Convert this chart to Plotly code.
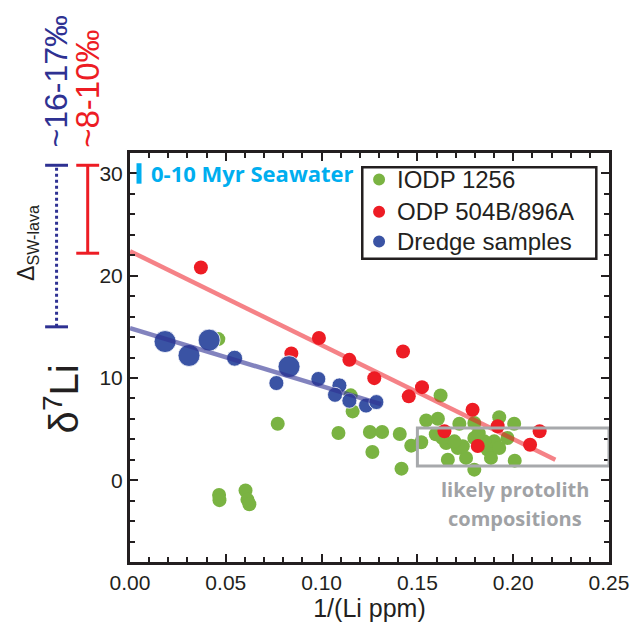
import numpy as np
import plotly.graph_objects as go

# --- data: 1/(Li ppm) and d7Li ---
iodp_x = [0.0461, 0.0771, 0.0465, 0.0467, 0.0603, 0.0613, 0.0623, 0.1088, 0.1152, 0.1162,
          0.1252, 0.1316, 0.1265, 0.1408, 0.1417, 0.1468, 0.1520, 0.1546, 0.1607, 0.1621,
          0.1719, 0.1797, 0.1927, 0.2005, 0.1659, 0.1650, 0.1711, 0.1754, 0.1737, 0.1797,
          0.1797, 0.1866, 0.1884, 0.1901, 0.1927, 0.1970, 0.2008, 0.1849, 0.1693, 0.1630,
          0.1820, 0.1596]
iodp_y = [13.8, 5.52, -1.45, -1.95, -1.0, -1.9, -2.35, 4.61, 8.3, 6.73,
          4.71, 4.71, 2.76, 4.52, 1.13, 3.38, 3.71, 5.85, 6.01, 8.29,
          5.52, 5.59, 6.15, 5.52, 2.01, 3.64, 3.15, 2.18, 3.32, 4.13,
          1.03, 2.99, 2.18, 3.8, 3.15, 4.13, 1.91, 3.8, 3.8, 4.13,
          4.6, 4.5]

odp_x = [0.0370, 0.0842, 0.0986, 0.1145, 0.1275, 0.1425, 0.1455, 0.1524, 0.1641, 0.1788,
         0.1919, 0.1815, 0.2138, 0.2088]
odp_y = [20.8, 12.4, 13.9, 11.77, 9.98, 12.58, 8.2, 9.1, 4.78, 6.89,
         5.27, 3.35, 4.78, 3.47]

dredge_x = [0.0183, 0.0308, 0.0413, 0.0546, 0.0764, 0.0830, 0.0983, 0.1093, 0.1070, 0.1145,
            0.1232, 0.1286]
dredge_y = [13.56, 12.2, 13.7, 11.93, 9.5, 11.1, 9.9, 9.27, 8.35, 7.77,
            7.3, 7.64]
dredge_size = [22, 22, 22, 16, 15, 22, 15, 15, 15, 15, 15, 15]

# linear fits (intercept, slope, x extent)
odp_fit = (22.4, -91.9, 0.222)
dredge_fit = (14.87, -56.7, 0.131)

# seawater bar and offset ranges (d7Li)
seawater_range = [29.0, 31.0]
offset_blue = [15.0, 30.8]
offset_red = [22.2, 30.8]

# protolith box
protolith_x = [0.150, 0.25]
protolith_y = [1.4, 5.1]

series_names = ["IODP 1256", "ODP 504B/896A", "Dredge samples"]

GREEN = "#7ab342"
RED = "#ed1c24"
BLUE = "#3a53a4"
INK = "#231f20"
FONT = "Liberation Sans, Arial, sans-serif"

fig = go.Figure()

fig.add_trace(go.Scatter(x=iodp_x, y=iodp_y, mode="markers", name=series_names[0],
                         marker=dict(color=GREEN, size=14, opacity=1, line=dict(width=0))))
fig.add_trace(go.Scatter(x=odp_x, y=odp_y, mode="markers", name=series_names[1],
                         marker=dict(color=RED, size=14, opacity=1, line=dict(width=0))))
fig.add_trace(go.Scatter(x=dredge_x, y=dredge_y, mode="markers", name=series_names[2],
                         marker=dict(color=BLUE, size=dredge_size, opacity=1,
                                     line=dict(width=0.8, color="white"))))

for (b0, b1, xmax), col in [(odp_fit, "rgba(237,28,36,0.55)"), (dredge_fit, "rgba(46,49,146,0.6)")]:
    xs = np.array([0.0, xmax])
    fig.add_trace(go.Scatter(x=xs, y=b0 + b1 * xs, mode="lines", showlegend=False,
                             hoverinfo="skip", line=dict(color=col, width=4.5)))

shapes = []
# seawater bar
shapes.append(dict(type="line", xref="x", yref="y", x0=0.0047, x1=0.0047,
                   y0=seawater_range[0], y1=seawater_range[1],
                   line=dict(color="#00aeef", width=5)))
# protolith box
shapes.append(dict(type="rect", xref="x", yref="y", x0=protolith_x[0], x1=protolith_x[1],
                   y0=protolith_y[0], y1=protolith_y[1],
                   line=dict(color="#a7a9ac", width=3), fillcolor="rgba(0,0,0,0)"))
# offset bars left of the axis
for (lo, hi), xc, col, dash in [(offset_blue, -0.1533, "#2e3192", "dot"),
                                (offset_red, -0.0883, RED, "solid")]:
    shapes.append(dict(type="line", xref="paper", yref="y", x0=xc, x1=xc, y0=lo, y1=hi,
                       line=dict(color=col, width=3, dash=dash)))
    for yv in (lo, hi):
        shapes.append(dict(type="line", xref="paper", yref="y", x0=xc - 0.0239, x1=xc + 0.0239,
                           y0=yv, y1=yv, line=dict(color=col, width=3)))

# framed key in the upper right
shapes.append(dict(type="rect", xref="paper", yref="paper", x0=0.4849, x1=0.9735,
                   y0=0.7413, y1=0.9654, line=dict(color=INK, width=2.5), fillcolor="white",
                   layer="above"))
key_rows = [0.935, 0.8565, 0.7836]
for name, col, yk in zip(series_names, [GREEN, RED, BLUE], key_rows):
    shapes.append(dict(type="circle", xref="paper", yref="paper", xsizemode="pixel",
                       ysizemode="pixel", xanchor=0.520, yanchor=yk, x0=-6, x1=6, y0=-6, y1=6,
                       fillcolor=col, line=dict(width=0), layer="above"))

annotations = [
    dict(text="<b>0-10 Myr Seawater</b>", xref="x", yref="y", x=0.0101, y=30.0,
         xanchor="left", yanchor="middle", showarrow=False,
         font=dict(family="Open Sans, sans-serif", size=22, color="#00aeef")),
    dict(text="<b>likely protolith</b>", xref="x", yref="y", x=0.201, y=-0.95,
         xanchor="center", yanchor="middle", showarrow=False,
         font=dict(family="Open Sans, sans-serif", size=20, color="#a0a2a5")),
    dict(text="<b>compositions</b>", xref="x", yref="y", x=0.201, y=-3.7,
         xanchor="center", yanchor="middle", showarrow=False,
         font=dict(family="Open Sans, sans-serif", size=20, color="#a0a2a5")),
    dict(text="~16-17‰", xref="paper", yref="paper", x=-0.155, y=1.1768,
         xanchor="center", yanchor="middle", showarrow=False, textangle=-90,
         font=dict(family=FONT, size=32, color="#2e3192")),
    dict(text="~8-10‰", xref="paper", yref="paper", x=-0.088, y=1.1566,
         xanchor="center", yanchor="middle", showarrow=False, textangle=-90,
         font=dict(family=FONT, size=33, color=RED)),
    dict(text="Δ<sub>SW-lava</sub>", xref="paper", yref="y", x=-0.213, y=23.2,
         xanchor="center", yanchor="middle", showarrow=False, textangle=-90,
         font=dict(family=FONT, size=23, color=INK)),
    dict(text="δ<sup>7</sup>Li", xref="paper", yref="y", x=-0.142, y=8.0,
         xanchor="center", yanchor="middle", showarrow=False, textangle=-90,
         font=dict(family=FONT, size=40, color=INK)),
]
for name, yk in zip(series_names, key_rows):
    annotations.append(dict(text=name, xref="paper", yref="paper", x=0.5535, y=yk,
                            xanchor="left", yanchor="middle", showarrow=False,
                            font=dict(family=FONT, size=24, color=INK)))

axis_common = dict(showline=True, linecolor=INK, linewidth=3, mirror="allticks",
                   ticks="inside", ticklen=8, tickwidth=2, tickcolor=INK,
                   showgrid=False, zeroline=False,
                   tickfont=dict(family=FONT, size=21, color=INK))

fig.update_layout(
    width=641, height=630,
    margin=dict(l=130, r=29, t=153, b=65),
    paper_bgcolor="white", plot_bgcolor="white",
    showlegend=False,
    xaxis=dict(range=[0, 0.25], tickvals=[0, 0.05, 0.10, 0.15, 0.20, 0.25],
               ticktext=["0.00", "0.05", "0.10", "0.15", "0.20", "0.25"],
               minor=dict(dtick=0.01, ticks="inside", ticklen=5, tickwidth=1.5, tickcolor=INK),
               title=dict(text="1/(Li ppm)", font=dict(family=FONT, size=25, color=INK), standoff=6),
               **axis_common),
    yaxis=dict(range=[-8, 32], tickvals=[0, 10, 20, 30],
               minor=dict(dtick=2, ticks="inside", ticklen=5, tickwidth=1.5, tickcolor=INK),
               **axis_common),
    shapes=shapes,
    annotations=annotations,
)

fig.write_html("out.html")
